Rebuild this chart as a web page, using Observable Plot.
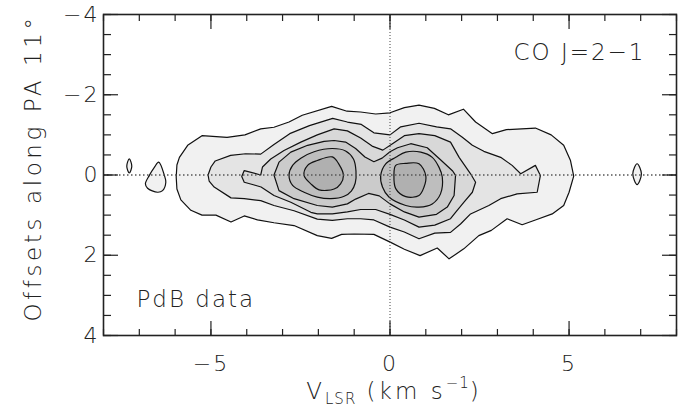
<!DOCTYPE html>
<html><head><meta charset="utf-8">
<script src="https://cdn.jsdelivr.net/npm/d3@7"></script>
<script src="https://cdn.jsdelivr.net/npm/@observablehq/plot@0.6"></script>
<style>body{margin:0;background:#fff}</style>
</head><body><div id="chart"></div>
<script>
// Contour outlines of the position-velocity map: [V_LSR (km/s), offset (arcsec)]
const level1 = [[-5.97,0.05],[-5.95,-0.25],[-5.88,-0.44],[-5.65,-0.74],[-5.25,-0.98],[-4.55,-0.94],[-4.05,-1.00],[-3.61,-1.15],[-3.24,-1.19],[-2.82,-1.32],[-2.45,-1.49],[-1.63,-1.71],[-1.2,-1.59],[-0.82,-1.57],[-0.4,-1.52],[0,-1.55],[0.4,-1.68],[0.81,-1.74],[1.24,-1.66],[1.63,-1.50],[2.05,-1.64],[2.39,-1.32],[2.86,-1.03],[3.25,-1.13],[4.06,-1.17],[4.5,-1.0],[4.85,-0.74],[5.04,-0.36],[5.13,0.03],[5.0,0.43],[4.85,0.76],[4.53,0.97],[4.06,1.12],[3.69,1.24],[3.27,1.09],[2.83,1.38],[2.48,1.51],[2.06,1.84],[1.65,2.09],[1.32,1.82],[0.84,2.01],[0.4,1.85],[0.02,1.68],[-0.45,1.48],[-1.0,1.47],[-1.35,1.48],[-1.63,1.58],[-2.03,1.51],[-2.68,1.26],[-3.24,1.19],[-3.7,1.12],[-4.07,1.02],[-4.44,1.17],[-4.86,1.0],[-5.25,1.0],[-5.56,0.88],[-5.84,0.62],[-5.95,0.35]];
const level2 = [[-5.08,0.0],[-5.0,-0.2],[-4.88,-0.35],[-4.45,-0.49],[-4.03,-0.53],[-3.61,-0.52],[-3.24,-0.76],[-2.8,-1.03],[-2.25,-1.23],[-1.6,-1.41],[-1.19,-1.32],[-0.8,-1.26],[-0.45,-1.05],[0,-1.0],[0.3,-1.2],[0.81,-1.29],[1.3,-1.2],[1.69,-1.15],[2.02,-0.94],[2.30,-0.74],[2.62,-0.59],[3.09,-0.44],[3.41,-0.24],[3.65,-0.03],[4.06,-0.24],[4.20,0.01],[4.11,0.43],[3.55,0.47],[3.09,0.59],[2.76,0.76],[2.25,0.97],[1.97,1.22],[1.69,1.43],[1.25,1.45],[0.81,1.59],[0.4,1.42],[0.0,1.3],[-0.45,1.12],[-0.82,1.09],[-1.19,1.09],[-1.61,1.13],[-2.03,1.1],[-2.68,0.89],[-3.24,0.76],[-3.61,0.64],[-4.07,0.59],[-4.44,0.57],[-4.91,0.30],[-5.05,0.15]];
const level3 = [[-4.14,0.04],[-4.07,-0.11],[-3.61,0.0],[-3.56,-0.2],[-3.33,-0.40],[-2.96,-0.61],[-2.49,-0.82],[-2.03,-1.0],[-1.56,-1.15],[-1.19,-1.1],[-0.82,-0.92],[-0.5,-0.72],[-0.2,-0.62],[0.1,-0.8],[0.4,-0.98],[0.81,-1.03],[1.25,-0.98],[1.69,-0.82],[1.93,-0.44],[2.25,-0.03],[2.39,0.18],[2.30,0.43],[2.06,0.68],[1.83,0.93],[1.69,1.09],[1.25,1.25],[0.81,1.30],[0.4,1.12],[0.0,0.98],[-0.4,0.86],[-0.82,0.86],[-1.19,0.92],[-1.61,0.97],[-2.03,0.97],[-2.21,0.93],[-2.77,0.68],[-3.24,0.51],[-3.6,0.3],[-3.79,0.25],[-4.07,0.18]];
const level4 = [[-3.24,0.0],[-3.10,-0.32],[-2.77,-0.57],[-2.30,-0.74],[-1.84,-0.84],[-1.56,-0.86],[-1.24,-0.82],[-0.96,-0.66],[-0.7,-0.45],[-0.45,-0.33],[-0.22,-0.42],[0.0,-0.58],[0.21,-0.68],[0.58,-0.78],[1.04,-0.68],[1.41,-0.38],[1.75,-0.1],[1.83,0.01],[1.79,0.51],[1.6,0.8],[1.3,0.98],[0.81,1.05],[0.4,0.92],[0.0,0.72],[-0.3,0.52],[-0.6,0.46],[-0.96,0.6],[-1.19,0.72],[-1.61,0.80],[-2.03,0.76],[-2.68,0.59],[-3.10,0.39]];
const level5West = [[-2.82,0.0],[-2.72,-0.24],[-2.49,-0.42],[-2.12,-0.58],[-1.61,-0.66],[-1.24,-0.6],[-1.02,-0.4],[-0.95,-0.1],[-0.97,0.2],[-1.08,0.4],[-1.28,0.53],[-1.65,0.59],[-2.03,0.55],[-2.40,0.43],[-2.72,0.26]];
const level5East = [[-0.26,0.01],[-0.12,-0.28],[0.16,-0.44],[0.44,-0.57],[0.86,-0.57],[1.18,-0.44],[1.37,-0.19],[1.46,0.05],[1.41,0.47],[1.18,0.72],[0.81,0.80],[0.44,0.76],[-0.03,0.55],[-0.21,0.30]];
const level6West = [[-2.40,0.01],[-2.30,-0.24],[-2.03,-0.36],[-1.61,-0.45],[-1.42,-0.26],[-1.30,0.01],[-1.38,0.22],[-1.56,0.35],[-1.98,0.37],[-2.21,0.22]];
const level6East = [[0.11,0.01],[0.16,-0.24],[0.44,-0.29],[0.81,-0.28],[1.0,0.02],[0.95,0.30],[0.81,0.51],[0.44,0.54],[0.16,0.34]];
const blobFarWest = [[-7.28,-0.40],[-7.21,-0.22],[-7.28,-0.05],[-7.35,-0.22]];
const blobWest = [[-6.46,-0.32],[-6.30,0.01],[-6.26,0.18],[-6.35,0.39],[-6.49,0.43],[-6.77,0.33],[-6.83,0.22],[-6.72,0.01],[-6.58,-0.19]];
const blobEast = [[6.90,-0.28],[7.02,-0.03],[6.90,0.24],[6.78,-0.03]];

const levelFills = ["#f1f1f1","#e4e4e4","#d8d8d8","#cbcbcb","#bebebe","#b0b0b0"];
const contours = [
  {pts: level1, lev: 0, curve: "linear-closed"},
  {pts: blobFarWest, lev: 0, curve: "catmull-rom-closed"},
  {pts: blobWest, lev: 0, curve: "catmull-rom-closed"},
  {pts: blobEast, lev: 0, curve: "catmull-rom-closed"},
  {pts: level2, lev: 1, curve: "linear-closed"},
  {pts: level3, lev: 2, curve: "linear-closed"},
  {pts: level4, lev: 3, curve: "linear-closed"},
  {pts: level5West, lev: 4, curve: "catmull-rom-closed"},
  {pts: level5East, lev: 4, curve: "catmull-rom-closed"},
  {pts: level6West, lev: 5, curve: "catmull-rom-closed"},
  {pts: level6East, lev: 5, curve: "catmull-rom-closed"}
];

const xMinorTicks = [-8,-7,-6,-5,-4,-3,-2,-1,0,1,2,3,4,5,6,7,8];
const xMajorTicks = [-5,0,5];
const yMinorTicks = [-4,-3.5,-3,-2.5,-2,-1.5,-1,-0.5,0,0.5,1,1.5,2,2.5,3,3.5,4];
const yMajorTicks = [-4,-2,0,2,4];
const fmt = d => d < 0 ? "\u2212" + Math.abs(d) : String(d);
const ink = "#222";

const plot = Plot.plot({
  width: 686, height: 409,
  marginLeft: 103, marginRight: 10, marginTop: 14, marginBottom: 74,
  x: {domain: [-8, 8]},
  y: {domain: [-4, 4], reverse: true},
  style: {fontFamily: "DejaVu Sans", fontSize: "22px", fontWeight: 200, color: ink, background: "white", letterSpacing: "2px"},
  marks: [
    ...contours.map(c => Plot.line(c.pts, {x: d => d[0], y: d => d[1], fill: levelFills[c.lev], stroke: "#111", strokeWidth: 1.2, curve: c.curve})),
    Plot.ruleY([0], {stroke: "#555", strokeWidth: 1.4, strokeDasharray: "1.5 2.5"}),
    Plot.ruleX([0], {stroke: "#444", strokeWidth: 1, strokeDasharray: "1 2"}),
    Plot.axisX({anchor: "bottom", ticks: xMinorTicks, tickSize: -6, tickFormat: () => "", label: null, stroke: ink, strokeWidth: 1.2}),
    Plot.axisX({anchor: "top", ticks: xMinorTicks, tickSize: -6, tickFormat: () => "", label: null, stroke: ink, strokeWidth: 1.2}),
    Plot.axisX({anchor: "bottom", ticks: xMajorTicks, tickSize: -14, tickFormat: () => "", label: null, stroke: ink, strokeWidth: 1.2}),
    Plot.axisX({anchor: "top", ticks: xMajorTicks, tickSize: -14, tickFormat: () => "", label: null, stroke: ink, strokeWidth: 1.2}),
    Plot.axisY({anchor: "left", ticks: yMinorTicks, tickSize: -8, tickFormat: () => "", label: null, stroke: ink, strokeWidth: 1.2}),
    Plot.axisY({anchor: "right", ticks: yMinorTicks, tickSize: -8, tickFormat: () => "", label: null, stroke: ink, strokeWidth: 1.2}),
    Plot.axisY({anchor: "left", ticks: yMajorTicks, tickSize: -15, tickFormat: () => "", label: null, stroke: ink, strokeWidth: 1.2}),
    Plot.axisY({anchor: "right", ticks: yMajorTicks, tickSize: -15, tickFormat: () => "", label: null, stroke: ink, strokeWidth: 1.2}),
    Plot.axisX({anchor: "bottom", ticks: xMajorTicks, tickSize: 0, tickPadding: 20, tickFormat: fmt, label: null, fill: ink}),
    Plot.axisY({anchor: "left", ticks: yMajorTicks, tickSize: 0, tickPadding: 4, tickFormat: fmt, label: null, fill: ink}),
    Plot.frame({stroke: ink, strokeWidth: 1.6}),
    Plot.text(["CO J=2\u22121"], {frameAnchor: "top-right", dx: -31, dy: 29, textAnchor: "end", lineAnchor: "top", fontSize: 23, fill: ink}),
    Plot.text(["PdB data"], {frameAnchor: "bottom-left", dx: 33, dy: -45, textAnchor: "start", lineAnchor: "top", fontSize: 23, fill: ink})
  ]
});

const svg = d3.select(plot);
svg.append("text").attr("transform", "translate(41,168) rotate(-90)")
  .attr("text-anchor", "middle").attr("fill", ink).attr("font-size", 23)
  .attr("letter-spacing", "3.6px")
  .text("Offsets along PA 11\u00b0");
const xl = svg.append("text").attr("x", 394).attr("y", 399).attr("text-anchor", "middle").attr("fill", ink).attr("font-size", 23)
  .attr("letter-spacing", "3px");
xl.append("tspan").text("V");
xl.append("tspan").attr("font-size", 15).attr("dy", 5).attr("letter-spacing", "1px").text("LSR");
xl.append("tspan").attr("dy", -5).text(" (km s");
xl.append("tspan").attr("font-size", 15).attr("dy", -11).attr("letter-spacing", "1px").text("\u22121");
xl.append("tspan").attr("dy", 11).text(")");

document.getElementById("chart").append(plot);
</script>
</body></html>
